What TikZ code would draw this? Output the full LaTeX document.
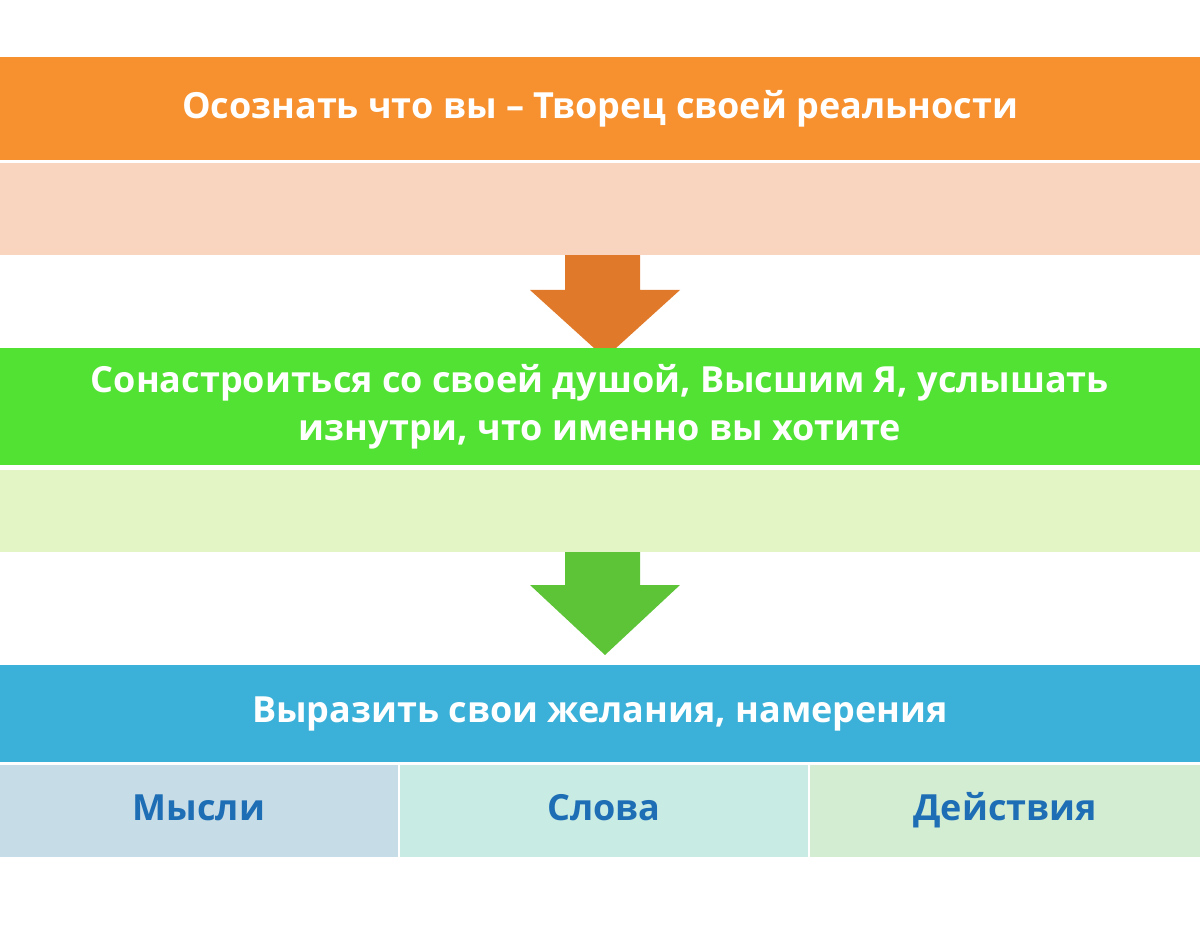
\documentclass[tikz,border=0pt]{standalone}
\usepackage{fontspec}
\setmainfont{Open Sans}
\definecolor{barorange}{HTML}{F7912F}
\definecolor{barpeach}{HTML}{F9D5BF}
\definecolor{bargreen}{HTML}{52E233}
\definecolor{barlime}{HTML}{E3F5C4}
\definecolor{barblue}{HTML}{3BB0D8}
\definecolor{boxone}{HTML}{C6DCE6}
\definecolor{boxtwo}{HTML}{C8EBE3}
\definecolor{boxthree}{HTML}{D3EDD3}
\definecolor{arroworange}{HTML}{E07A2A}
\definecolor{arrowgreen}{HTML}{5CC436}
\definecolor{wordblue}{HTML}{1E6EB5}
\begin{document}
\begin{tikzpicture}
        [x=1pt,y=-1pt,every node/.style={inner sep=0,outer sep=0,anchor=north west,font=\bfseries\fontsize{36}{48}\selectfont},
        bar/.style={minimum width=1200pt,text=white,align=center},
        sub/.style={minimum height=92pt,text=wordblue,text height=26pt,text depth=8pt}]

        \useasboundingbox (0,0) rectangle (1200,933);

        % arrows
        \fill[arroworange] (565,250) -- (640,250) -- (640,290) -- (680,290) -- (605,358) -- (530,290) -- (565,290) -- cycle;
        \fill[arrowgreen] (565,545) -- (640,545) -- (640,585) -- (680,585) -- (605,655) -- (530,585) -- (565,585) -- cycle;

        \node[bar,fill=barorange,minimum height=103pt] (n1) at (0,57) {Осознать что вы – Творец своей реальности};
        \node[bar,fill=barpeach,minimum height=92pt] (n1b) at (0,163) {};
        \node[bar,fill=bargreen,minimum height=117pt] (n2) at (0,348) {Сонастроиться со своей душой, Высшим Я, услышать\\изнутри, что именно вы хотите};
        \node[bar,fill=barlime,minimum height=82pt] (n2b) at (0,470) {};
        \node[bar,fill=barblue,minimum height=97pt] (n3) at (0,665) {Выразить свои желания, намерения};

        \node[sub,fill=boxone,minimum width=398pt] (m1) at (0,765) {Мысли};
        \node[sub,fill=boxtwo,minimum width=408pt] (m2) at (400,765) {Слова};
        \node[sub,fill=boxthree,minimum width=390pt] (m3) at (810,765) {Действия};

      \end{tikzpicture}
\end{document}
